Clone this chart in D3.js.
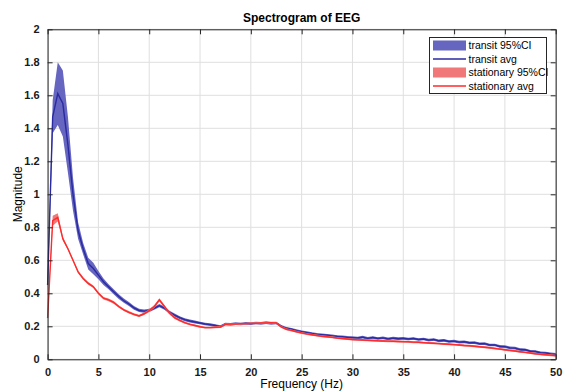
<!DOCTYPE html>
<html><head><meta charset="utf-8">
<script src="https://cdn.jsdelivr.net/npm/d3@7"></script>
<style>body{margin:0;background:#fff}svg{display:block;font-family:"Liberation Sans",Arial,sans-serif}</style>
</head><body><svg id="c" width="564" height="391"></svg>
<script>
const freqStart = 0, freqStep = 0.5;
const transitAvg = [0.45,1.47,1.61,1.55,1.30,1.00,0.78,0.67,0.58,0.55,0.51,0.47,0.44,0.41,0.38,0.355,0.335,0.312,0.296,0.292,0.296,0.31,0.325,0.31,0.285,0.268,0.252,0.24,0.232,0.226,0.22,0.214,0.21,0.205,0.198,0.214,0.212,0.216,0.214,0.218,0.216,0.22,0.218,0.222,0.218,0.22,0.2,0.188,0.182,0.174,0.167,0.162,0.156,0.151,0.149,0.146,0.142,0.138,0.137,0.133,0.131,0.129,0.134,0.127,0.132,0.126,0.13,0.124,0.128,0.125,0.127,0.123,0.126,0.12,0.123,0.116,0.12,0.112,0.115,0.108,0.11,0.104,0.106,0.1,0.101,0.094,0.095,0.087,0.087,0.078,0.077,0.069,0.068,0.059,0.058,0.049,0.047,0.04,0.038,0.033,0.03];
const transitCI = [0.05,0.1,0.19,0.2,0.17,0.1,0.05,0.035,0.035,0.035,0.025,0.02,0.015,0.015,0.015,0.013,0.012,0.011,0.01,0.01,0.01,0.01,0.01,0.01,0.01,0.01,0.009,0.009,0.009,0.009,0.008,0.008,0.008,0.008,0.008,0.008,0.008,0.008,0.008,0.008,0.008,0.008,0.008,0.008,0.008,0.008,0.008,0.008,0.008,0.008,0.008,0.008,0.008,0.008,0.008,0.008,0.008,0.008,0.008,0.008,0.008,0.008,0.008,0.008,0.008,0.008,0.008,0.008,0.008,0.008,0.008,0.008,0.008,0.008,0.008,0.008,0.008,0.008,0.008,0.008,0.008,0.008,0.008,0.008,0.008,0.008,0.008,0.008,0.008,0.008,0.008,0.008,0.008,0.008,0.008,0.008,0.008,0.008,0.008,0.008,0.008];
const stationaryAvg = [0.25,0.84,0.86,0.73,0.67,0.60,0.53,0.49,0.46,0.44,0.40,0.37,0.36,0.345,0.32,0.30,0.285,0.272,0.263,0.276,0.295,0.32,0.36,0.32,0.28,0.252,0.236,0.222,0.212,0.205,0.197,0.192,0.192,0.194,0.196,0.212,0.214,0.214,0.216,0.216,0.218,0.218,0.22,0.22,0.222,0.22,0.196,0.182,0.175,0.167,0.16,0.154,0.149,0.144,0.14,0.137,0.133,0.129,0.126,0.123,0.12,0.118,0.117,0.115,0.114,0.112,0.111,0.11,0.109,0.108,0.107,0.106,0.104,0.103,0.101,0.099,0.097,0.095,0.093,0.091,0.089,0.087,0.084,0.082,0.079,0.076,0.073,0.07,0.066,0.062,0.058,0.054,0.05,0.046,0.042,0.038,0.034,0.031,0.028,0.025,0.022];
const stationaryCI = [0.02,0.03,0.025,0.012,0.008,0.008,0.008,0.008,0.008,0.008,0.008,0.008,0.008,0.008,0.008,0.007,0.007,0.007,0.007,0.007,0.008,0.009,0.01,0.009,0.008,0.007,0.007,0.006,0.006,0.006,0.006,0.006,0.006,0.006,0.006,0.006,0.006,0.006,0.006,0.006,0.006,0.006,0.006,0.006,0.006,0.006,0.006,0.006,0.006,0.006,0.006,0.006,0.006,0.006,0.006,0.006,0.006,0.006,0.006,0.006,0.006,0.006,0.006,0.006,0.006,0.006,0.006,0.006,0.006,0.006,0.006,0.006,0.006,0.006,0.006,0.006,0.006,0.006,0.006,0.006,0.006,0.006,0.006,0.006,0.006,0.006,0.006,0.006,0.006,0.006,0.006,0.006,0.006,0.006,0.006,0.006,0.006,0.006,0.006,0.006,0.006];
const xTicks = [0,5,10,15,20,25,30,35,40,45,50];
const yTicks = [0,0.2,0.4,0.6,0.8,1,1.2,1.4,1.6,1.8,2];
const legendLabels = ["transit 95%CI","transit avg","stationary 95%CI","stationary avg"];

const svg = d3.select("#c");
const L=47.6, R=555.7, T=29.3, B=359.3;
const x = d3.scaleLinear().domain([0,50]).range([L,R]);
const y = d3.scaleLinear().domain([0,2]).range([B,T]);
const frame="#262626";

// grid
svg.append("g").selectAll("line").data(xTicks).join("line")
  .attr("x1",d=>x(d)).attr("x2",d=>x(d)).attr("y1",T).attr("y2",B)
  .attr("stroke","#dfdfdf").attr("stroke-width",1);
svg.append("g").selectAll("line").data(yTicks).join("line")
  .attr("y1",d=>y(d)).attr("y2",d=>y(d)).attr("x1",L).attr("x2",R)
  .attr("stroke","#dfdfdf").attr("stroke-width",1);

function series(avg, ci){ return avg.map((v,i)=>({f:freqStart+i*freqStep,v,lo:v-ci[i],hi:v+ci[i]})); }
const tr = series(transitAvg, transitCI), st = series(stationaryAvg, stationaryCI);
const area = d3.area().x(d=>x(d.f)).y0(d=>y(d.lo)).y1(d=>y(d.hi));
const line = d3.line().x(d=>x(d.f)).y(d=>y(d.v));

const blueFill="#6666c0", blueLine="#2a2aa2", redFill="#f07878", redLine="#ff2a2a";
svg.append("path").datum(tr).attr("d",area).attr("fill",blueFill);
svg.append("path").datum(tr).attr("d",line).attr("fill","none").attr("stroke",blueLine).attr("stroke-width",1.4);
svg.append("path").datum(st).attr("d",area).attr("fill",redFill);
svg.append("path").datum(st).attr("d",line).attr("fill","none").attr("stroke",redLine).attr("stroke-width",1.4);

// axes
const fmt = d=>String(d);
const ax = svg.append("g").attr("transform",`translate(0,${B})`).call(d3.axisBottom(x).tickValues(xTicks).tickFormat(fmt).tickSizeInner(-5).tickSizeOuter(0).tickPadding(9));
const axT = svg.append("g").attr("transform",`translate(0,${T})`).call(d3.axisTop(x).tickValues(xTicks).tickFormat("").tickSizeInner(-5).tickSizeOuter(0));
const ay = svg.append("g").attr("transform",`translate(${L},0)`).call(d3.axisLeft(y).tickValues(yTicks).tickFormat(fmt).tickSizeInner(-5).tickSizeOuter(0).tickPadding(8));
const ayR = svg.append("g").attr("transform",`translate(${R},0)`).call(d3.axisRight(y).tickValues(yTicks).tickFormat("").tickSizeInner(-5).tickSizeOuter(0));
[ax,axT,ay,ayR].forEach(g=>{
  g.select(".domain").attr("stroke",frame);
  g.selectAll(".tick line").attr("stroke",frame);
  g.selectAll("text").attr("fill","#1a1a1a").attr("font-size","11px").attr("font-weight","bold").attr("font-family","Liberation Sans, Arial, sans-serif");
});

// titles
svg.append("text").attr("x",(L+R)/2).attr("y",22).attr("text-anchor","middle")
  .attr("font-size","12px").attr("font-weight","bold").attr("fill","#000").text("Spectrogram of EEG");
svg.append("text").attr("x",(L+R)/2).attr("y",388).attr("text-anchor","middle")
  .attr("font-size","12px").attr("fill","#000").text("Frequency (Hz)");
svg.append("text").attr("transform",`translate(22,${(T+B)/2}) rotate(-90)`).attr("text-anchor","middle")
  .attr("font-size","12px").attr("fill","#000").text("Magnitude");

// legend
const lg = svg.append("g");
lg.append("rect").attr("x",429.5).attr("y",37.5).attr("width",117).attr("height",56).attr("fill","#fff").attr("stroke",frame).attr("stroke-width",1);
const kinds = [{t:"patch",c:blueFill},{t:"line",c:blueLine},{t:"patch",c:redFill},{t:"line",c:redLine}];
legendLabels.forEach((lab,i)=>{
  const cy = 45.5 + i*13.5;
  if(kinds[i].t==="patch") lg.append("rect").attr("x",433).attr("y",cy-5).attr("width",33).attr("height",10).attr("fill",kinds[i].c);
  else lg.append("line").attr("x1",433).attr("x2",466).attr("y1",cy).attr("y2",cy).attr("stroke",kinds[i].c).attr("stroke-width",1.4);
  lg.append("text").attr("x",468.5).attr("y",cy+3.8).attr("font-size","10.5px").attr("fill","#000").text(lab);
});
</script></body></html>
